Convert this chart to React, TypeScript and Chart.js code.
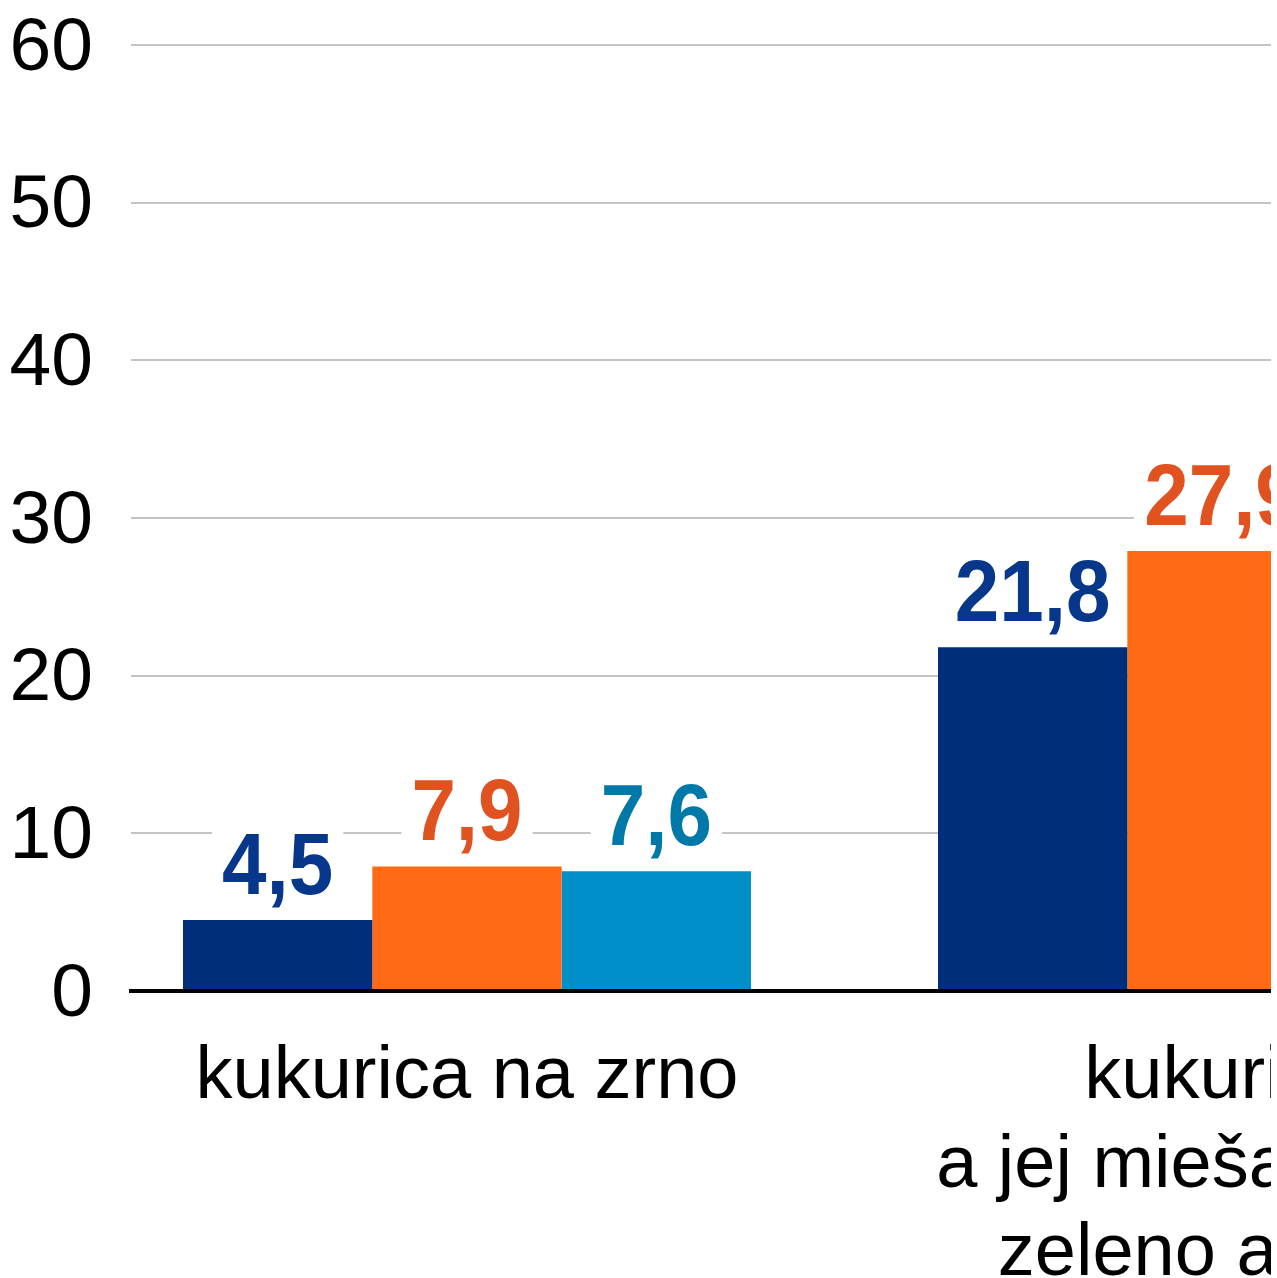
import React, { useEffect, useRef } from 'react';
import { Chart, registerables } from 'chart.js';

Chart.register(...registerables);

// ---- data ----
const categories: string[][] = [
  ['kukurica na zrno'],
  ['kukurica', 'a jej miešanky na', 'zeleno a siláž'],
];
const seriesNames = ['séria 1', 'séria 2', 'séria 3'];
const series1: (number | null)[] = [4.5, 21.8];
const series2: (number | null)[] = [7.9, 27.9];
const series3: (number | null)[] = [7.6, null];
const yTicks = [0, 10, 20, 30, 40, 50, 60];

const barColors = ['#012E7B', '#FF6A14', '#008FC8'];
const labelColors = ['#06378A', '#E0521F', '#0079A8'];
const FONT = '"Liberation Sans", Arial, Helvetica, sans-serif';

const allSeries = [series1, series2, series3];

const valueLabels = {
  id: 'valueLabels',
  afterDatasetsDraw(chart: any) {
    const ctx = chart.ctx as CanvasRenderingContext2D;
    ctx.save();
    ctx.font = `bold 80px ${FONT}`;
    ctx.textAlign = 'center';
    ctx.textBaseline = 'alphabetic';
    chart.data.datasets.forEach((ds: any, di: number) => {
      const meta = chart.getDatasetMeta(di);
      meta.data.forEach((bar: any, i: number) => {
        const raw = ds.data[i];
        const v = raw ? raw.y : null;
        if (v == null) return;
        const text = v.toFixed(1).replace('.', ',');
        const w = ctx.measureText(text).width;
        const baseY = bar.y - 26;
        ctx.fillStyle = '#ffffff';
        ctx.fillRect(bar.x - w / 2 - 10, baseY - 70, w + 20, 84);
        ctx.fillStyle = labelColors[di];
        ctx.save();
        ctx.translate(bar.x, baseY);
        ctx.scale(1, 1.1);
        ctx.fillText(text, 0, 0);
        ctx.restore();
      });
    });
    ctx.restore();
  },
};

export default function App() {
  const ref = useRef<HTMLCanvasElement>(null);

  useEffect(() => {
    const chart = new Chart(ref.current as HTMLCanvasElement, {
      type: 'bar',
      data: {
        datasets: allSeries.map((s, si) => ({
          label: seriesNames[si],
          data: categories.map((_, ci) => ({ x: ci, y: s[ci] })),
          backgroundColor: barColors[si],
          borderWidth: 0,
          categoryPercentage: 0.7523,
          barPercentage: 1,
        })) as any,
      },
      options: {
        responsive: false,
        devicePixelRatio: 1,
        animation: false,
        layout: { padding: { top: 45, left: 0, right: 0, bottom: 0 } },
        plugins: {
          legend: { display: false },
          tooltip: { enabled: false },
        },
        scales: {
          x: {
            type: 'linear',
            min: -0.445,
            max: 1.0649,
            bounds: 'data',
            offset: false,
            grid: { display: false },
            border: { display: true, color: '#000000', width: 4, z: 1 } as any,
            afterBuildTicks: (s: any) => {
              s.ticks = categories.map((_, i) => ({ value: i }));
            },
            afterFit: (s: any) => {
              s.height = 287;
              s.paddingLeft = 0;
              s.paddingRight = 0;
            },
            ticks: {
              autoSkip: false,
              maxRotation: 0,
              minRotation: 0,
              padding: 34,
              color: '#000000',
              font: { family: FONT, size: 74, lineHeight: 1.2 },
              callback: (v: any) => categories[v as number] ?? '',
            },
          },
          y: {
            min: 0,
            max: 60,
            afterBuildTicks: (s: any) => {
              s.ticks = yTicks.map((v) => ({ value: v }));
            },
            afterFit: (s: any) => {
              s.width = 131;
              s.paddingTop = 0;
              s.paddingBottom = 0;
            },
            grid: { color: '#C4C4C4', lineWidth: 2, drawTicks: false },
            border: { display: false },
            ticks: {
              padding: 38,
              labelOffset: 4,
              color: '#000000',
              font: { family: FONT, size: 75, lineHeight: 1 },
              callback: (v: any) => String(v),
            },
          },
        },
      },
      plugins: [valueLabels],
    });
    return () => chart.destroy();
  }, []);

  return (
    <div
      style={{
        position: 'fixed',
        left: 0,
        top: 0,
        width: 1277,
        height: 1278,
        background: '#ffffff',
        overflow: 'hidden',
      }}
    >
      <canvas
        ref={ref}
        width={1271}
        height={1278}
        style={{ display: 'block', width: 1271, height: 1278 }}
      />
    </div>
  );
}
